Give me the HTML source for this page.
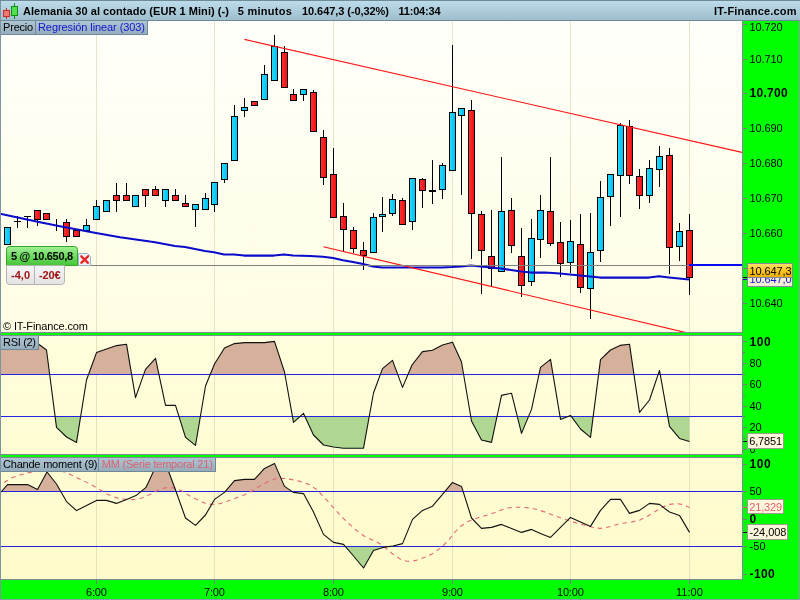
<!DOCTYPE html>
<html lang="es"><head><meta charset="utf-8"><title>Alemania 30 al contado</title>
<style>html,body{margin:0;padding:0;background:#00ff00;overflow:hidden}svg{display:block}text{font-family:'Liberation Sans',Arial,sans-serif;font-size:11px;fill:#000}.b{font-weight:bold}.b12{font-weight:bold;font-size:12px}</style></head><body>
<svg width="800" height="600" viewBox="0 0 800 600">
<defs>
<linearGradient id="gHead" x1="0" y1="0" x2="0" y2="1"><stop offset="0" stop-color="#bcdceb"/><stop offset="1" stop-color="#9ebecd"/></linearGradient>
<linearGradient id="gPrice" x1="0" y1="0" x2="0" y2="1"><stop offset="0" stop-color="#fffffb"/><stop offset="1" stop-color="#fffde2"/></linearGradient>
<linearGradient id="gRsi" x1="0" y1="0" x2="0" y2="1"><stop offset="0" stop-color="#fffedc"/><stop offset="1" stop-color="#fffdd5"/></linearGradient>
<linearGradient id="gCh" x1="0" y1="0" x2="0" y2="1"><stop offset="0" stop-color="#fffcd4"/><stop offset="1" stop-color="#fffbca"/></linearGradient>
<linearGradient id="gB" x1="0" y1="0" x2="1" y2="0"><stop offset="0" stop-color="#26daff"/><stop offset="1" stop-color="#06bef2"/></linearGradient>
<linearGradient id="gR" x1="0" y1="0" x2="1" y2="0"><stop offset="0" stop-color="#ff3030"/><stop offset="1" stop-color="#ee1212"/></linearGradient>
<linearGradient id="gGreenLbl" x1="0" y1="0" x2="0" y2="1"><stop offset="0" stop-color="#a2ee96"/><stop offset="0.5" stop-color="#6fdc62"/><stop offset="1" stop-color="#46c438"/></linearGradient>
<linearGradient id="gGray" x1="0" y1="0" x2="0" y2="1"><stop offset="0" stop-color="#f6f6f6"/><stop offset="1" stop-color="#e2e2e2"/></linearGradient>
<linearGradient id="gGold" x1="0" y1="0" x2="0" y2="1"><stop offset="0" stop-color="#ffe066"/><stop offset="0.5" stop-color="#fcc624"/><stop offset="1" stop-color="#eeae08"/></linearGradient>
<linearGradient id="gTab" x1="0" y1="0" x2="0" y2="1"><stop offset="0" stop-color="#aec6d4"/><stop offset="1" stop-color="#94acbb"/></linearGradient>
<clipPath id="cRsiHi"><rect x="0" y="336" width="742" height="38.5"/></clipPath>
<clipPath id="cRsiLo"><rect x="0" y="416.5" width="742" height="37.5"/></clipPath>
<clipPath id="cChHi"><rect x="0" y="458" width="742" height="33.5"/></clipPath>
<clipPath id="cChLo"><rect x="0" y="546.5" width="742" height="32.5"/></clipPath>
<clipPath id="cPrice"><rect x="0" y="21" width="742" height="311"/></clipPath>
</defs>
<rect x="0" y="0" width="800" height="600" fill="#00ff00"/>
<rect x="0" y="0" width="800" height="21" fill="#6e8a97"/>
<rect x="0" y="1" width="800" height="19" fill="url(#gHead)"/>
<g shape-rendering="crispEdges"><rect x="6" y="8" width="1" height="11" fill="#c03030"/><rect x="3.5" y="10.5" width="6" height="6" fill="#f27878" stroke="#cc2a2a" stroke-width="1"/><rect x="14" y="3" width="1" height="16" fill="#109010"/><rect x="11.5" y="6.5" width="6" height="9" fill="#50e050" stroke="#109010" stroke-width="1"/></g>
<text x="22.9" y="14.7" class="b" textLength="206" lengthAdjust="spacing" xml:space="preserve">Alemania 30 al contado (EUR 1 Mini) (-)</text>
<text x="237.8" y="14.7" class="b" textLength="54" lengthAdjust="spacing" xml:space="preserve">5 minutos</text>
<text x="302" y="14.7" class="b" textLength="87" lengthAdjust="spacing" xml:space="preserve">10.647,3 (-0,32%)</text>
<text x="398.5" y="14.7" class="b" textLength="42" lengthAdjust="spacing" xml:space="preserve">11:04:34</text>
<text x="714" y="14.7" class="b" textLength="82.5" lengthAdjust="spacing" xml:space="preserve">IT-Finance.com</text>
<rect x="0" y="21" width="742" height="312" fill="url(#gPrice)"/>
<g shape-rendering="crispEdges" fill="#e7e4c8">
<rect x="96" y="21" width="1" height="311"/>
<rect x="96" y="336" width="1" height="118"/>
<rect x="96" y="458" width="1" height="121"/>
<rect x="214" y="21" width="1" height="311"/>
<rect x="214" y="336" width="1" height="118"/>
<rect x="214" y="458" width="1" height="121"/>
<rect x="333" y="21" width="1" height="311"/>
<rect x="333" y="336" width="1" height="118"/>
<rect x="333" y="458" width="1" height="121"/>
<rect x="452" y="21" width="1" height="311"/>
<rect x="452" y="336" width="1" height="118"/>
<rect x="452" y="458" width="1" height="121"/>
<rect x="570" y="21" width="1" height="311"/>
<rect x="570" y="336" width="1" height="118"/>
<rect x="570" y="458" width="1" height="121"/>
<rect x="689" y="21" width="1" height="311"/>
<rect x="689" y="336" width="1" height="118"/>
<rect x="689" y="458" width="1" height="121"/>
</g>
<g shape-rendering="crispEdges">
<rect x="7" y="227" width="1" height="18" fill="#000"/>
<rect x="4" y="227" width="7" height="18" fill="#000"/>
<rect x="5" y="228" width="5" height="16" fill="url(#gB)"/>
<rect x="17" y="216" width="1" height="12" fill="#000"/>
<rect x="14" y="221" width="7" height="1" fill="#000"/>
<rect x="27" y="216" width="1" height="12" fill="#000"/>
<rect x="24" y="216" width="7" height="1" fill="#000"/>
<rect x="37" y="210" width="1" height="16" fill="#000"/>
<rect x="34" y="210" width="7" height="10" fill="#000"/>
<rect x="35" y="211" width="5" height="8" fill="url(#gR)"/>
<rect x="46" y="213" width="1" height="7" fill="#000"/>
<rect x="43" y="213" width="7" height="7" fill="#000"/>
<rect x="44" y="214" width="5" height="5" fill="url(#gR)"/>
<rect x="56" y="219" width="1" height="12" fill="#000"/>
<rect x="66" y="219" width="1" height="23" fill="#000"/>
<rect x="63" y="222" width="7" height="15" fill="#000"/>
<rect x="64" y="223" width="5" height="13" fill="url(#gR)"/>
<rect x="76" y="230" width="1" height="7" fill="#000"/>
<rect x="73" y="230" width="7" height="7" fill="#000"/>
<rect x="74" y="231" width="5" height="5" fill="url(#gR)"/>
<rect x="86" y="219" width="1" height="12" fill="#000"/>
<rect x="83" y="225" width="7" height="6" fill="#000"/>
<rect x="84" y="226" width="5" height="4" fill="url(#gB)"/>
<rect x="96" y="200" width="1" height="20" fill="#000"/>
<rect x="93" y="206" width="7" height="14" fill="#000"/>
<rect x="94" y="207" width="5" height="12" fill="url(#gB)"/>
<rect x="106" y="200" width="1" height="12" fill="#000"/>
<rect x="103" y="200" width="7" height="12" fill="#000"/>
<rect x="104" y="201" width="5" height="10" fill="url(#gB)"/>
<rect x="116" y="183" width="1" height="29" fill="#000"/>
<rect x="113" y="195" width="7" height="6" fill="#000"/>
<rect x="114" y="196" width="5" height="4" fill="url(#gR)"/>
<rect x="126" y="183" width="1" height="18" fill="#000"/>
<rect x="123" y="195" width="7" height="6" fill="#000"/>
<rect x="124" y="196" width="5" height="4" fill="url(#gR)"/>
<rect x="135" y="195" width="1" height="12" fill="#000"/>
<rect x="132" y="195" width="7" height="12" fill="#000"/>
<rect x="133" y="196" width="5" height="10" fill="url(#gB)"/>
<rect x="145" y="189" width="1" height="18" fill="#000"/>
<rect x="142" y="189" width="7" height="7" fill="#000"/>
<rect x="143" y="190" width="5" height="5" fill="url(#gR)"/>
<rect x="155" y="186" width="1" height="10" fill="#000"/>
<rect x="152" y="189" width="7" height="7" fill="#000"/>
<rect x="153" y="190" width="5" height="5" fill="url(#gR)"/>
<rect x="165" y="189" width="1" height="18" fill="#000"/>
<rect x="162" y="189" width="7" height="12" fill="#000"/>
<rect x="163" y="190" width="5" height="10" fill="url(#gB)"/>
<rect x="175" y="189" width="1" height="12" fill="#000"/>
<rect x="172" y="195" width="7" height="6" fill="#000"/>
<rect x="173" y="196" width="5" height="4" fill="url(#gR)"/>
<rect x="185" y="195" width="1" height="12" fill="#000"/>
<rect x="182" y="203" width="7" height="4" fill="#000"/>
<rect x="183" y="204" width="5" height="2" fill="url(#gR)"/>
<rect x="195" y="204" width="1" height="23" fill="#000"/>
<rect x="192" y="204" width="7" height="6" fill="#000"/>
<rect x="193" y="205" width="5" height="4" fill="url(#gB)"/>
<rect x="205" y="193" width="1" height="17" fill="#000"/>
<rect x="202" y="198" width="7" height="12" fill="#000"/>
<rect x="203" y="199" width="5" height="10" fill="url(#gB)"/>
<rect x="214" y="182" width="1" height="30" fill="#000"/>
<rect x="211" y="182" width="7" height="23" fill="#000"/>
<rect x="212" y="183" width="5" height="21" fill="url(#gB)"/>
<rect x="224" y="163" width="1" height="20" fill="#000"/>
<rect x="221" y="163" width="7" height="17" fill="#000"/>
<rect x="222" y="164" width="5" height="15" fill="url(#gB)"/>
<rect x="234" y="105" width="1" height="56" fill="#000"/>
<rect x="231" y="116" width="7" height="45" fill="#000"/>
<rect x="232" y="117" width="5" height="43" fill="url(#gB)"/>
<rect x="244" y="98" width="1" height="19" fill="#000"/>
<rect x="241" y="107" width="7" height="4" fill="#000"/>
<rect x="242" y="108" width="5" height="2" fill="url(#gB)"/>
<rect x="254" y="101" width="1" height="5" fill="#000"/>
<rect x="251" y="101" width="7" height="5" fill="#000"/>
<rect x="252" y="102" width="5" height="3" fill="url(#gR)"/>
<rect x="264" y="65" width="1" height="35" fill="#000"/>
<rect x="261" y="74" width="7" height="26" fill="#000"/>
<rect x="262" y="75" width="5" height="24" fill="url(#gB)"/>
<rect x="274" y="35" width="1" height="46" fill="#000"/>
<rect x="271" y="46" width="7" height="35" fill="#000"/>
<rect x="272" y="47" width="5" height="33" fill="url(#gB)"/>
<rect x="284" y="46" width="1" height="42" fill="#000"/>
<rect x="281" y="52" width="7" height="36" fill="#000"/>
<rect x="282" y="53" width="5" height="34" fill="url(#gR)"/>
<rect x="293" y="89" width="1" height="12" fill="#000"/>
<rect x="290" y="94" width="7" height="7" fill="#000"/>
<rect x="291" y="95" width="5" height="5" fill="url(#gR)"/>
<rect x="303" y="89" width="1" height="12" fill="#000"/>
<rect x="300" y="89" width="7" height="6" fill="#000"/>
<rect x="301" y="90" width="5" height="4" fill="url(#gB)"/>
<rect x="313" y="90" width="1" height="42" fill="#000"/>
<rect x="310" y="92" width="7" height="40" fill="#000"/>
<rect x="311" y="93" width="5" height="38" fill="url(#gR)"/>
<rect x="323" y="130" width="1" height="55" fill="#000"/>
<rect x="320" y="137" width="7" height="41" fill="#000"/>
<rect x="321" y="138" width="5" height="39" fill="url(#gR)"/>
<rect x="333" y="148" width="1" height="70" fill="#000"/>
<rect x="330" y="174" width="7" height="44" fill="#000"/>
<rect x="331" y="175" width="5" height="42" fill="url(#gR)"/>
<rect x="343" y="203" width="1" height="48" fill="#000"/>
<rect x="340" y="216" width="7" height="14" fill="#000"/>
<rect x="341" y="217" width="5" height="12" fill="url(#gR)"/>
<rect x="353" y="227" width="1" height="26" fill="#000"/>
<rect x="350" y="230" width="7" height="19" fill="#000"/>
<rect x="351" y="231" width="5" height="17" fill="url(#gR)"/>
<rect x="363" y="242" width="1" height="28" fill="#000"/>
<rect x="360" y="250" width="7" height="6" fill="#000"/>
<rect x="361" y="251" width="5" height="4" fill="url(#gR)"/>
<rect x="373" y="213" width="1" height="40" fill="#000"/>
<rect x="370" y="217" width="7" height="36" fill="#000"/>
<rect x="371" y="218" width="5" height="34" fill="url(#gB)"/>
<rect x="382" y="197" width="1" height="35" fill="#000"/>
<rect x="379" y="214" width="7" height="3" fill="#000"/>
<rect x="380" y="215" width="5" height="1" fill="url(#gB)"/>
<rect x="392" y="194" width="1" height="22" fill="#000"/>
<rect x="389" y="199" width="7" height="15" fill="#000"/>
<rect x="390" y="200" width="5" height="13" fill="url(#gB)"/>
<rect x="402" y="198" width="1" height="27" fill="#000"/>
<rect x="399" y="200" width="7" height="25" fill="#000"/>
<rect x="400" y="201" width="5" height="23" fill="url(#gR)"/>
<rect x="412" y="178" width="1" height="52" fill="#000"/>
<rect x="409" y="178" width="7" height="44" fill="#000"/>
<rect x="410" y="179" width="5" height="42" fill="url(#gB)"/>
<rect x="422" y="178" width="1" height="30" fill="#000"/>
<rect x="419" y="179" width="7" height="12" fill="#000"/>
<rect x="420" y="180" width="5" height="10" fill="url(#gR)"/>
<rect x="432" y="160" width="1" height="44" fill="#000"/>
<rect x="429" y="190" width="7" height="2" fill="#000"/>
<rect x="442" y="163" width="1" height="36" fill="#000"/>
<rect x="439" y="165" width="7" height="25" fill="#000"/>
<rect x="440" y="166" width="5" height="23" fill="url(#gB)"/>
<rect x="452" y="45" width="1" height="126" fill="#000"/>
<rect x="449" y="112" width="7" height="59" fill="#000"/>
<rect x="450" y="113" width="5" height="57" fill="url(#gB)"/>
<rect x="461" y="108" width="1" height="87" fill="#000"/>
<rect x="458" y="108" width="7" height="8" fill="#000"/>
<rect x="459" y="109" width="5" height="6" fill="url(#gB)"/>
<rect x="471" y="100" width="1" height="159" fill="#000"/>
<rect x="468" y="110" width="7" height="104" fill="#000"/>
<rect x="469" y="111" width="5" height="102" fill="url(#gR)"/>
<rect x="481" y="211" width="1" height="83" fill="#000"/>
<rect x="478" y="214" width="7" height="37" fill="#000"/>
<rect x="479" y="215" width="5" height="35" fill="url(#gR)"/>
<rect x="491" y="210" width="1" height="76" fill="#000"/>
<rect x="488" y="256" width="7" height="13" fill="#000"/>
<rect x="489" y="257" width="5" height="11" fill="url(#gR)"/>
<rect x="501" y="157" width="1" height="115" fill="#000"/>
<rect x="498" y="211" width="7" height="61" fill="#000"/>
<rect x="499" y="212" width="5" height="59" fill="url(#gB)"/>
<rect x="511" y="198" width="1" height="55" fill="#000"/>
<rect x="508" y="210" width="7" height="36" fill="#000"/>
<rect x="509" y="211" width="5" height="34" fill="url(#gR)"/>
<rect x="521" y="228" width="1" height="69" fill="#000"/>
<rect x="518" y="256" width="7" height="30" fill="#000"/>
<rect x="519" y="257" width="5" height="28" fill="url(#gR)"/>
<rect x="531" y="219" width="1" height="67" fill="#000"/>
<rect x="528" y="238" width="7" height="44" fill="#000"/>
<rect x="529" y="239" width="5" height="42" fill="url(#gB)"/>
<rect x="540" y="195" width="1" height="63" fill="#000"/>
<rect x="537" y="210" width="7" height="30" fill="#000"/>
<rect x="538" y="211" width="5" height="28" fill="url(#gB)"/>
<rect x="550" y="157" width="1" height="89" fill="#000"/>
<rect x="547" y="211" width="7" height="33" fill="#000"/>
<rect x="548" y="212" width="5" height="31" fill="url(#gR)"/>
<rect x="560" y="222" width="1" height="55" fill="#000"/>
<rect x="557" y="242" width="7" height="22" fill="#000"/>
<rect x="558" y="243" width="5" height="20" fill="url(#gR)"/>
<rect x="570" y="220" width="1" height="53" fill="#000"/>
<rect x="567" y="241" width="7" height="22" fill="#000"/>
<rect x="568" y="242" width="5" height="20" fill="url(#gB)"/>
<rect x="580" y="214" width="1" height="79" fill="#000"/>
<rect x="577" y="244" width="7" height="44" fill="#000"/>
<rect x="578" y="245" width="5" height="42" fill="url(#gR)"/>
<rect x="590" y="213" width="1" height="106" fill="#000"/>
<rect x="587" y="252" width="7" height="37" fill="#000"/>
<rect x="588" y="253" width="5" height="35" fill="url(#gB)"/>
<rect x="600" y="181" width="1" height="81" fill="#000"/>
<rect x="597" y="197" width="7" height="54" fill="#000"/>
<rect x="598" y="198" width="5" height="52" fill="url(#gB)"/>
<rect x="610" y="174" width="1" height="52" fill="#000"/>
<rect x="607" y="174" width="7" height="23" fill="#000"/>
<rect x="608" y="175" width="5" height="21" fill="url(#gB)"/>
<rect x="620" y="123" width="1" height="94" fill="#000"/>
<rect x="617" y="125" width="7" height="51" fill="#000"/>
<rect x="618" y="126" width="5" height="49" fill="url(#gB)"/>
<rect x="629" y="120" width="1" height="64" fill="#000"/>
<rect x="626" y="126" width="7" height="50" fill="#000"/>
<rect x="627" y="127" width="5" height="48" fill="url(#gR)"/>
<rect x="639" y="169" width="1" height="40" fill="#000"/>
<rect x="636" y="176" width="7" height="20" fill="#000"/>
<rect x="637" y="177" width="5" height="18" fill="url(#gR)"/>
<rect x="649" y="160" width="1" height="43" fill="#000"/>
<rect x="646" y="168" width="7" height="28" fill="#000"/>
<rect x="647" y="169" width="5" height="26" fill="url(#gB)"/>
<rect x="659" y="146" width="1" height="41" fill="#000"/>
<rect x="656" y="156" width="7" height="14" fill="#000"/>
<rect x="657" y="157" width="5" height="12" fill="url(#gB)"/>
<rect x="669" y="148" width="1" height="126" fill="#000"/>
<rect x="666" y="155" width="7" height="93" fill="#000"/>
<rect x="667" y="156" width="5" height="91" fill="url(#gR)"/>
<rect x="679" y="223" width="1" height="38" fill="#000"/>
<rect x="676" y="231" width="7" height="16" fill="#000"/>
<rect x="677" y="232" width="5" height="14" fill="url(#gB)"/>
<rect x="689" y="214" width="1" height="81" fill="#000"/>
<rect x="686" y="230" width="7" height="48" fill="#000"/>
<rect x="687" y="231" width="5" height="46" fill="url(#gR)"/>
</g>
<polyline points="0.0,213.8 20.0,218.0 40.0,222.3 60.0,226.3 80.0,230.0 96.0,233.0 120.0,237.2 150.0,241.6 155.0,242.2 175.0,246.0 185.0,247.0 205.0,251.0 214.0,252.2 224.0,254.4 234.0,254.4 244.0,255.6 274.0,255.6 284.0,254.4 293.0,255.6 310.0,256.0 323.0,256.8 333.0,258.0 343.0,260.2 353.0,262.0 363.0,264.0 373.0,266.6 382.0,267.4 442.0,267.4 452.0,267.0 461.0,266.4 471.0,265.4 481.0,266.4 491.0,267.6 501.0,268.6 511.0,270.0 521.0,271.6 531.0,272.6 545.0,272.6 560.0,273.6 575.0,275.0 590.0,276.4 600.0,277.6 649.0,277.6 659.0,276.2 669.0,277.4 679.0,278.4 689.0,279.6" fill="none" stroke="#0a0acc" stroke-width="2.05" stroke-linejoin="round" stroke-linecap="butt"/>
<g clip-path="url(#cPrice)">
<line x1="244.4" y1="39.4" x2="742" y2="152.4" stroke="#ff1414" stroke-width="1.15"/>
<line x1="323.4" y1="246.8" x2="700" y2="335.9" stroke="#ff1414" stroke-width="1.15"/>
</g>
<rect x="78" y="265" width="611" height="1" fill="#808080" shape-rendering="crispEdges"/>
<rect x="689" y="264" width="53" height="2" fill="#0a0af0" shape-rendering="crispEdges"/>
<g shape-rendering="crispEdges">
<rect x="1" y="21" width="146" height="13" fill="url(#gTab)"/>
<rect x="1" y="34" width="147" height="1" fill="#718896"/>
<rect x="35" y="21" width="1" height="14" fill="#718896"/>
<rect x="147" y="21" width="1" height="14" fill="#718896"/>
</g>
<text x="3.1" y="31" textLength="30" lengthAdjust="spacing" xml:space="preserve">Precio</text>
<text x="38" y="31" textLength="107" lengthAdjust="spacing" style="fill:#1414d2" xml:space="preserve">Regresión linear (303)</text>
<text x="3" y="330" textLength="85" lengthAdjust="spacing" xml:space="preserve">© IT-Finance.com</text>
<path d="M6.5,265.5 V249.5 a3,3 0 0 1 3,-3 H74.5 a3,3 0 0 1 3,3 V265.5 Z" fill="url(#gGreenLbl)" stroke="#35a82b" stroke-width="1"/>
<text x="11" y="259.8" class="b" textLength="62" lengthAdjust="spacing" xml:space="preserve">5 @ 10.650,8</text>
<path d="M6.5,265.5 H34.5 V284.5 H9.5 a3,3 0 0 1 -3,-3 Z" fill="url(#gGray)" stroke="#b4b4b4" stroke-width="1"/>
<path d="M34.5,265.5 H64.5 V281.5 a3,3 0 0 1 -3,3 H34.5 Z" fill="url(#gGray)" stroke="#b4b4b4" stroke-width="1"/>
<text x="11" y="279" class="b" textLength="19" lengthAdjust="spacing" style="fill:#a01414" xml:space="preserve">-4,0</text>
<text x="39" y="279" class="b" textLength="21.5" lengthAdjust="spacing" style="fill:#a01414" xml:space="preserve">-20€</text>
<path d="M78.5,253.5 H87.5 L90.5,256.5 V265.5 H78.5 Z" fill="#eef3fa" stroke="#9fb2c8" stroke-width="1"/>
<path d="M81.3,256.3 L88,262.8 M88,256.3 L81.3,262.8" stroke="#ee2626" stroke-width="2.3" stroke-linecap="round"/>
<g shape-rendering="crispEdges">
<rect x="0" y="332" width="743" height="1" fill="#82879a"/>
<rect x="0" y="333" width="800" height="3" fill="#00ff00"/>
</g>
<rect x="0" y="336" width="742" height="118" fill="url(#gRsi)"/>
<g shape-rendering="crispEdges" fill="#e6e2bc">
<rect x="96" y="336" width="1" height="118"/>
<rect x="214" y="336" width="1" height="118"/>
<rect x="333" y="336" width="1" height="118"/>
<rect x="452" y="336" width="1" height="118"/>
<rect x="570" y="336" width="1" height="118"/>
<rect x="689" y="336" width="1" height="118"/>
</g>
<polygon points="1.0,374.5 1.0,347.0 7.0,346.0 17.0,342.0 27.0,341.0 37.0,343.0 46.5,350.0 56.5,427.4 66.5,437.0 76.5,442.4 86.5,380.0 96.5,352.6 106.5,349.0 116.5,345.6 126.5,344.2 135.5,397.6 145.5,369.4 155.5,358.4 165.5,405.4 175.5,405.4 185.5,437.4 195.5,445.4 205.5,386.0 214.5,364.0 224.5,348.0 234.5,343.6 244.5,342.6 254.5,342.6 264.5,342.6 274.5,341.4 284.5,372.0 293.5,422.4 303.5,413.4 313.5,435.0 323.5,445.0 333.5,447.0 343.5,448.2 353.5,448.2 363.5,448.2 373.5,393.0 382.5,368.6 392.5,360.4 402.5,387.4 412.0,365.0 422.5,351.6 432.5,350.2 442.5,345.0 452.5,342.2 461.5,362.0 471.5,421.0 481.5,440.0 491.5,442.4 501.5,395.4 511.5,393.2 521.5,433.4 531.5,409.4 540.5,367.4 550.5,359.4 560.5,419.4 570.5,415.4 580.5,429.0 590.5,437.4 600.5,359.6 610.5,350.0 620.0,345.4 629.5,344.2 639.5,412.4 649.5,400.0 659.5,370.4 669.5,426.4 679.5,438.4 689.5,441.6 689.5,374.5" fill="#d5b09a" clip-path="url(#cRsiHi)"/>
<polygon points="1.0,416.5 1.0,347.0 7.0,346.0 17.0,342.0 27.0,341.0 37.0,343.0 46.5,350.0 56.5,427.4 66.5,437.0 76.5,442.4 86.5,380.0 96.5,352.6 106.5,349.0 116.5,345.6 126.5,344.2 135.5,397.6 145.5,369.4 155.5,358.4 165.5,405.4 175.5,405.4 185.5,437.4 195.5,445.4 205.5,386.0 214.5,364.0 224.5,348.0 234.5,343.6 244.5,342.6 254.5,342.6 264.5,342.6 274.5,341.4 284.5,372.0 293.5,422.4 303.5,413.4 313.5,435.0 323.5,445.0 333.5,447.0 343.5,448.2 353.5,448.2 363.5,448.2 373.5,393.0 382.5,368.6 392.5,360.4 402.5,387.4 412.0,365.0 422.5,351.6 432.5,350.2 442.5,345.0 452.5,342.2 461.5,362.0 471.5,421.0 481.5,440.0 491.5,442.4 501.5,395.4 511.5,393.2 521.5,433.4 531.5,409.4 540.5,367.4 550.5,359.4 560.5,419.4 570.5,415.4 580.5,429.0 590.5,437.4 600.5,359.6 610.5,350.0 620.0,345.4 629.5,344.2 639.5,412.4 649.5,400.0 659.5,370.4 669.5,426.4 679.5,438.4 689.5,441.6 689.5,416.5" fill="#afd792" clip-path="url(#cRsiLo)"/>
<g shape-rendering="crispEdges" fill="#2222e0">
<rect x="0" y="374" width="742" height="1"/>
<rect x="0" y="416" width="742" height="1"/>
</g>
<polyline points="1.0,347.0 7.0,346.0 17.0,342.0 27.0,341.0 37.0,343.0 46.5,350.0 56.5,427.4 66.5,437.0 76.5,442.4 86.5,380.0 96.5,352.6 106.5,349.0 116.5,345.6 126.5,344.2 135.5,397.6 145.5,369.4 155.5,358.4 165.5,405.4 175.5,405.4 185.5,437.4 195.5,445.4 205.5,386.0 214.5,364.0 224.5,348.0 234.5,343.6 244.5,342.6 254.5,342.6 264.5,342.6 274.5,341.4 284.5,372.0 293.5,422.4 303.5,413.4 313.5,435.0 323.5,445.0 333.5,447.0 343.5,448.2 353.5,448.2 363.5,448.2 373.5,393.0 382.5,368.6 392.5,360.4 402.5,387.4 412.0,365.0 422.5,351.6 432.5,350.2 442.5,345.0 452.5,342.2 461.5,362.0 471.5,421.0 481.5,440.0 491.5,442.4 501.5,395.4 511.5,393.2 521.5,433.4 531.5,409.4 540.5,367.4 550.5,359.4 560.5,419.4 570.5,415.4 580.5,429.0 590.5,437.4 600.5,359.6 610.5,350.0 620.0,345.4 629.5,344.2 639.5,412.4 649.5,400.0 659.5,370.4 669.5,426.4 679.5,438.4 689.5,441.6" fill="none" stroke="#111" stroke-width="1.1" stroke-linejoin="round"/>
<g shape-rendering="crispEdges">
<rect x="0" y="335" width="743" height="1" fill="#82879a"/>
<rect x="0" y="454" width="743" height="1" fill="#82879a"/>
<rect x="0" y="455" width="800" height="3" fill="#00ff00"/>
<rect x="1" y="336" width="37" height="14" fill="url(#gTab)"/>
<rect x="1" y="349" width="38" height="1" fill="#718896"/>
<rect x="38" y="336" width="1" height="14" fill="#718896"/>
</g>
<text x="3" y="346.2" textLength="33" lengthAdjust="spacing" xml:space="preserve">RSI (2)</text>
<rect x="0" y="458" width="742" height="121" fill="url(#gCh)"/>
<g shape-rendering="crispEdges" fill="#e6e2bc">
<rect x="96" y="458" width="1" height="121"/>
<rect x="214" y="458" width="1" height="121"/>
<rect x="333" y="458" width="1" height="121"/>
<rect x="452" y="458" width="1" height="121"/>
<rect x="570" y="458" width="1" height="121"/>
<rect x="689" y="458" width="1" height="121"/>
</g>
<polygon points="1.0,491.5 1.0,492.0 7.5,484.6 17.5,484.6 27.5,484.6 37.5,489.4 47.0,472.0 56.5,484.0 66.5,501.6 76.5,510.6 86.5,505.6 96.5,500.4 106.5,500.4 116.5,503.4 126.5,499.5 136.0,495.6 146.0,487.4 156.0,466.0 165.5,463.0 175.5,490.0 185.5,518.0 195.5,525.4 205.5,515.0 214.5,499.4 224.5,492.4 234.5,480.6 244.5,479.4 254.5,479.4 264.5,468.4 274.5,463.4 284.5,486.4 293.5,492.4 303.5,493.6 313.5,512.0 323.5,534.4 333.5,542.4 343.5,544.4 353.5,556.0 363.5,568.0 373.5,550.4 383.0,547.4 393.0,546.0 402.5,543.6 412.5,519.4 422.5,510.4 432.5,506.2 442.5,494.3 452.5,482.4 461.5,486.4 471.5,518.0 481.5,528.4 491.5,527.4 501.5,524.4 511.5,528.4 521.5,532.4 531.5,529.4 540.5,533.4 550.5,537.4 560.5,527.4 570.5,517.4 580.5,522.0 590.5,526.4 600.5,510.4 610.5,499.4 620.5,499.4 629.5,513.4 639.5,510.4 649.5,503.4 659.5,504.4 669.5,512.0 679.5,515.4 689.5,532.4 689.5,491.5" fill="#d5b09a" clip-path="url(#cChHi)"/>
<polygon points="1.0,546.5 1.0,492.0 7.5,484.6 17.5,484.6 27.5,484.6 37.5,489.4 47.0,472.0 56.5,484.0 66.5,501.6 76.5,510.6 86.5,505.6 96.5,500.4 106.5,500.4 116.5,503.4 126.5,499.5 136.0,495.6 146.0,487.4 156.0,466.0 165.5,463.0 175.5,490.0 185.5,518.0 195.5,525.4 205.5,515.0 214.5,499.4 224.5,492.4 234.5,480.6 244.5,479.4 254.5,479.4 264.5,468.4 274.5,463.4 284.5,486.4 293.5,492.4 303.5,493.6 313.5,512.0 323.5,534.4 333.5,542.4 343.5,544.4 353.5,556.0 363.5,568.0 373.5,550.4 383.0,547.4 393.0,546.0 402.5,543.6 412.5,519.4 422.5,510.4 432.5,506.2 442.5,494.3 452.5,482.4 461.5,486.4 471.5,518.0 481.5,528.4 491.5,527.4 501.5,524.4 511.5,528.4 521.5,532.4 531.5,529.4 540.5,533.4 550.5,537.4 560.5,527.4 570.5,517.4 580.5,522.0 590.5,526.4 600.5,510.4 610.5,499.4 620.5,499.4 629.5,513.4 639.5,510.4 649.5,503.4 659.5,504.4 669.5,512.0 679.5,515.4 689.5,532.4 689.5,546.5" fill="#afd792" clip-path="url(#cChLo)"/>
<g shape-rendering="crispEdges" fill="#2222e0">
<rect x="0" y="491" width="742" height="1"/>
<rect x="0" y="546" width="742" height="1"/>
</g>
<polyline points="4.0,482.4 12.0,477.8 20.0,475.0 30.0,472.4 40.0,470.0 50.0,469.0 58.0,470.0 66.0,472.4 74.0,476.4 82.0,480.0 90.0,484.0 99.0,489.0 107.0,494.0 116.0,497.6 124.0,499.2 133.0,499.6 142.0,498.0 150.0,494.4 160.0,489.0 168.0,487.4 175.0,488.0 182.0,491.0 190.0,496.0 198.0,500.0 206.0,503.6 212.0,504.4 220.0,503.6 228.0,501.0 236.0,498.0 244.0,495.0 252.0,491.0 260.0,486.0 268.0,481.6 276.0,478.6 284.0,478.4 292.0,479.6 300.0,481.4 308.0,484.0 316.0,489.0 324.0,497.0 332.0,506.0 340.0,515.0 348.0,523.0 356.0,530.0 364.0,536.0 370.0,539.0 376.0,541.6 382.0,545.0 388.0,550.0 394.0,555.0 400.0,559.0 406.0,561.0 410.0,561.4 416.0,560.4 424.0,557.6 432.0,554.0 440.0,548.4 448.0,541.0 455.0,532.0 461.0,526.0 468.0,521.6 476.0,518.4 484.0,516.0 492.0,513.6 500.0,510.4 508.0,508.0 514.0,507.2 522.0,507.2 530.0,508.0 538.0,509.6 546.0,512.4 554.0,515.6 562.0,518.4 570.0,521.0 578.0,523.4 586.0,525.6 594.0,527.6 600.0,528.4 606.0,527.6 612.0,526.0 620.0,523.6 630.0,522.4 640.0,520.0 648.0,516.0 656.0,511.0 664.0,506.4 670.0,504.4 676.0,503.6 682.0,504.4 689.5,507.4" fill="none" stroke="#e4687a" stroke-width="1.1" stroke-dasharray="4.5,4"/>
<polyline points="1.0,492.0 7.5,484.6 17.5,484.6 27.5,484.6 37.5,489.4 47.0,472.0 56.5,484.0 66.5,501.6 76.5,510.6 86.5,505.6 96.5,500.4 106.5,500.4 116.5,503.4 126.5,499.5 136.0,495.6 146.0,487.4 156.0,466.0 165.5,463.0 175.5,490.0 185.5,518.0 195.5,525.4 205.5,515.0 214.5,499.4 224.5,492.4 234.5,480.6 244.5,479.4 254.5,479.4 264.5,468.4 274.5,463.4 284.5,486.4 293.5,492.4 303.5,493.6 313.5,512.0 323.5,534.4 333.5,542.4 343.5,544.4 353.5,556.0 363.5,568.0 373.5,550.4 383.0,547.4 393.0,546.0 402.5,543.6 412.5,519.4 422.5,510.4 432.5,506.2 442.5,494.3 452.5,482.4 461.5,486.4 471.5,518.0 481.5,528.4 491.5,527.4 501.5,524.4 511.5,528.4 521.5,532.4 531.5,529.4 540.5,533.4 550.5,537.4 560.5,527.4 570.5,517.4 580.5,522.0 590.5,526.4 600.5,510.4 610.5,499.4 620.5,499.4 629.5,513.4 639.5,510.4 649.5,503.4 659.5,504.4 669.5,512.0 679.5,515.4 689.5,532.4" fill="none" stroke="#111" stroke-width="1.1" stroke-linejoin="round"/>
<g shape-rendering="crispEdges">
<rect x="0" y="457" width="743" height="1" fill="#82879a"/>
<rect x="0" y="579" width="743" height="1" fill="#82879a"/>
<rect x="1" y="458" width="214" height="13" fill="url(#gTab)"/>
<rect x="1" y="471" width="215" height="1" fill="#718896"/>
<rect x="98" y="458" width="1" height="14" fill="#718896"/>
<rect x="215" y="458" width="1" height="14" fill="#718896"/>
</g>
<text x="3" y="468" textLength="94.5" lengthAdjust="spacing" xml:space="preserve">Chande moment (9)</text>
<text x="101.8" y="468" textLength="111" lengthAdjust="spacing" style="fill:#e0606e" xml:space="preserve">MM (Serie temporal 21)</text>
<g shape-rendering="crispEdges">
<rect x="0" y="1" width="1" height="599" fill="#7e93a0"/>
<rect x="742" y="21" width="1" height="559" fill="#82879a"/>
<rect x="742" y="333" width="1" height="3" fill="#00ff00"/>
<rect x="742" y="455" width="1" height="3" fill="#00ff00"/>
<rect x="799" y="20" width="1" height="580" fill="#8c9caa"/>
<rect x="0" y="599" width="800" height="1" fill="#8c9caa"/>
</g>
<g shape-rendering="crispEdges" fill="#7a7a7a">
<rect x="743" y="24" width="4" height="1"/>
<rect x="743" y="59" width="4" height="1"/>
<rect x="743" y="93" width="4" height="1"/>
<rect x="743" y="128" width="4" height="1"/>
<rect x="743" y="163" width="4" height="1"/>
<rect x="743" y="198" width="4" height="1"/>
<rect x="743" y="233" width="4" height="1"/>
<rect x="743" y="268" width="4" height="1"/>
<rect x="743" y="303" width="4" height="1"/>
</g>
<text x="749.6" y="31" textLength="33" lengthAdjust="spacing" xml:space="preserve">10.720</text>
<text x="749.6" y="62.8" textLength="33" lengthAdjust="spacing" xml:space="preserve">10.710</text>
<text x="749.6" y="96.6" class="b12" textLength="38" lengthAdjust="spacing" xml:space="preserve">10.700</text>
<text x="749.6" y="131.8" textLength="33" lengthAdjust="spacing" xml:space="preserve">10.690</text>
<text x="749.6" y="166.8" textLength="33" lengthAdjust="spacing" xml:space="preserve">10.680</text>
<text x="749.6" y="201.8" textLength="33" lengthAdjust="spacing" xml:space="preserve">10.670</text>
<text x="749.6" y="236.8" textLength="33" lengthAdjust="spacing" xml:space="preserve">10.660</text>
<text x="749.6" y="306.8" textLength="33" lengthAdjust="spacing" xml:space="preserve">10.640</text>
<g shape-rendering="crispEdges">
<rect x="743" y="277" width="4" height="1" fill="#000"/>
<rect x="743" y="279" width="4" height="1" fill="#1414d2"/>
<rect x="747" y="276" width="46" height="11" fill="#82879a"/>
<rect x="748" y="277" width="44" height="9" fill="#f3eed2"/>
</g>
<svg x="748" y="278" width="44" height="8" overflow="hidden"><text x="1.6" y="5" textLength="42" lengthAdjust="spacing" style="fill:#1414d2">10.647,0</text></svg>
<g shape-rendering="crispEdges">
<rect x="747" y="263" width="46" height="15" fill="#82879a"/>
<rect x="748" y="264" width="44" height="13" fill="url(#gGold)"/>
</g>
<text x="749.6" y="275" textLength="42" lengthAdjust="spacing" xml:space="preserve">10.647,3</text>
<g shape-rendering="crispEdges" fill="#7a7a7a">
<rect x="743" y="341" width="4" height="1"/>
<rect x="743" y="352" width="2" height="1"/>
<rect x="743" y="363" width="4" height="1"/>
<rect x="743" y="374" width="2" height="1"/>
<rect x="743" y="384" width="4" height="1"/>
<rect x="743" y="395" width="2" height="1"/>
<rect x="743" y="406" width="4" height="1"/>
<rect x="743" y="416" width="2" height="1"/>
<rect x="743" y="427" width="4" height="1"/>
<rect x="743" y="438" width="2" height="1"/>
<rect x="743" y="449" width="4" height="1"/>
</g>
<text x="749.6" y="345.5" class="b12" textLength="21" lengthAdjust="spacing" xml:space="preserve">100</text>
<text x="749.6" y="367" textLength="12" lengthAdjust="spacing" xml:space="preserve">80</text>
<text x="749.6" y="388" textLength="12" lengthAdjust="spacing" xml:space="preserve">60</text>
<text x="749.6" y="410" textLength="12" lengthAdjust="spacing" xml:space="preserve">40</text>
<text x="749.6" y="431" textLength="12" lengthAdjust="spacing" xml:space="preserve">20</text>
<text x="749.6" y="453" textLength="6" lengthAdjust="spacing" xml:space="preserve">0</text>
<g shape-rendering="crispEdges">
<rect x="743" y="441" width="4" height="1" fill="#000"/>
<rect x="747" y="433" width="37" height="16" fill="#9c9c8c"/>
<rect x="748" y="434" width="35" height="14" fill="#fcf7dc"/>
</g>
<text x="749.2" y="445" textLength="33" lengthAdjust="spacing" xml:space="preserve">6,7851</text>
<g shape-rendering="crispEdges" fill="#7a7a7a">
<rect x="743" y="464" width="4" height="1"/>
<rect x="743" y="491" width="4" height="1"/>
<rect x="743" y="519" width="4" height="1"/>
<rect x="743" y="546" width="4" height="1"/>
<rect x="743" y="574" width="4" height="1"/>
</g>
<text x="749.6" y="467.6" class="b12" textLength="21" lengthAdjust="spacing" xml:space="preserve">100</text>
<text x="749.6" y="495" textLength="12" lengthAdjust="spacing" xml:space="preserve">50</text>
<text x="749.6" y="523" class="b12" textLength="7" lengthAdjust="spacing" xml:space="preserve">0</text>
<text x="749.6" y="550" textLength="16" lengthAdjust="spacing" xml:space="preserve">-50</text>
<text x="749.6" y="577.6" class="b12" textLength="25" lengthAdjust="spacing" xml:space="preserve">-100</text>
<g shape-rendering="crispEdges">
<rect x="743" y="507" width="4" height="1" fill="#e0606e"/>
<rect x="747" y="499" width="37" height="15" fill="#9c9c8c"/>
<rect x="748" y="500" width="35" height="13" fill="#fcf7dc"/>
<rect x="743" y="532" width="4" height="1" fill="#000"/>
<rect x="747" y="524" width="41" height="16" fill="#9c9c8c"/>
<rect x="748" y="525" width="39" height="14" fill="#fcf7dc"/>
</g>
<text x="749.2" y="511" textLength="33" lengthAdjust="spacing" style="fill:#e0606e" xml:space="preserve">21,329</text>
<text x="749.4" y="536" textLength="37" lengthAdjust="spacing" xml:space="preserve">-24,008</text>
<g shape-rendering="crispEdges" fill="#7a7a7a">
<rect x="96" y="580" width="1" height="4"/>
<rect x="214" y="580" width="1" height="4"/>
<rect x="333" y="580" width="1" height="4"/>
<rect x="452" y="580" width="1" height="4"/>
<rect x="570" y="580" width="1" height="4"/>
<rect x="689" y="580" width="1" height="4"/>
</g>
<text x="96.4" y="596" textLength="21" lengthAdjust="spacing" text-anchor="middle" xml:space="preserve">6:00</text>
<text x="214.4" y="596" textLength="21" lengthAdjust="spacing" text-anchor="middle" xml:space="preserve">7:00</text>
<text x="333.4" y="596" textLength="21" lengthAdjust="spacing" text-anchor="middle" xml:space="preserve">8:00</text>
<text x="452.4" y="596" textLength="21" lengthAdjust="spacing" text-anchor="middle" xml:space="preserve">9:00</text>
<text x="570.4" y="596" textLength="27" lengthAdjust="spacing" text-anchor="middle" xml:space="preserve">10:00</text>
<text x="689.4" y="596" textLength="27" lengthAdjust="spacing" text-anchor="middle" xml:space="preserve">11:00</text>
</svg></body></html>
